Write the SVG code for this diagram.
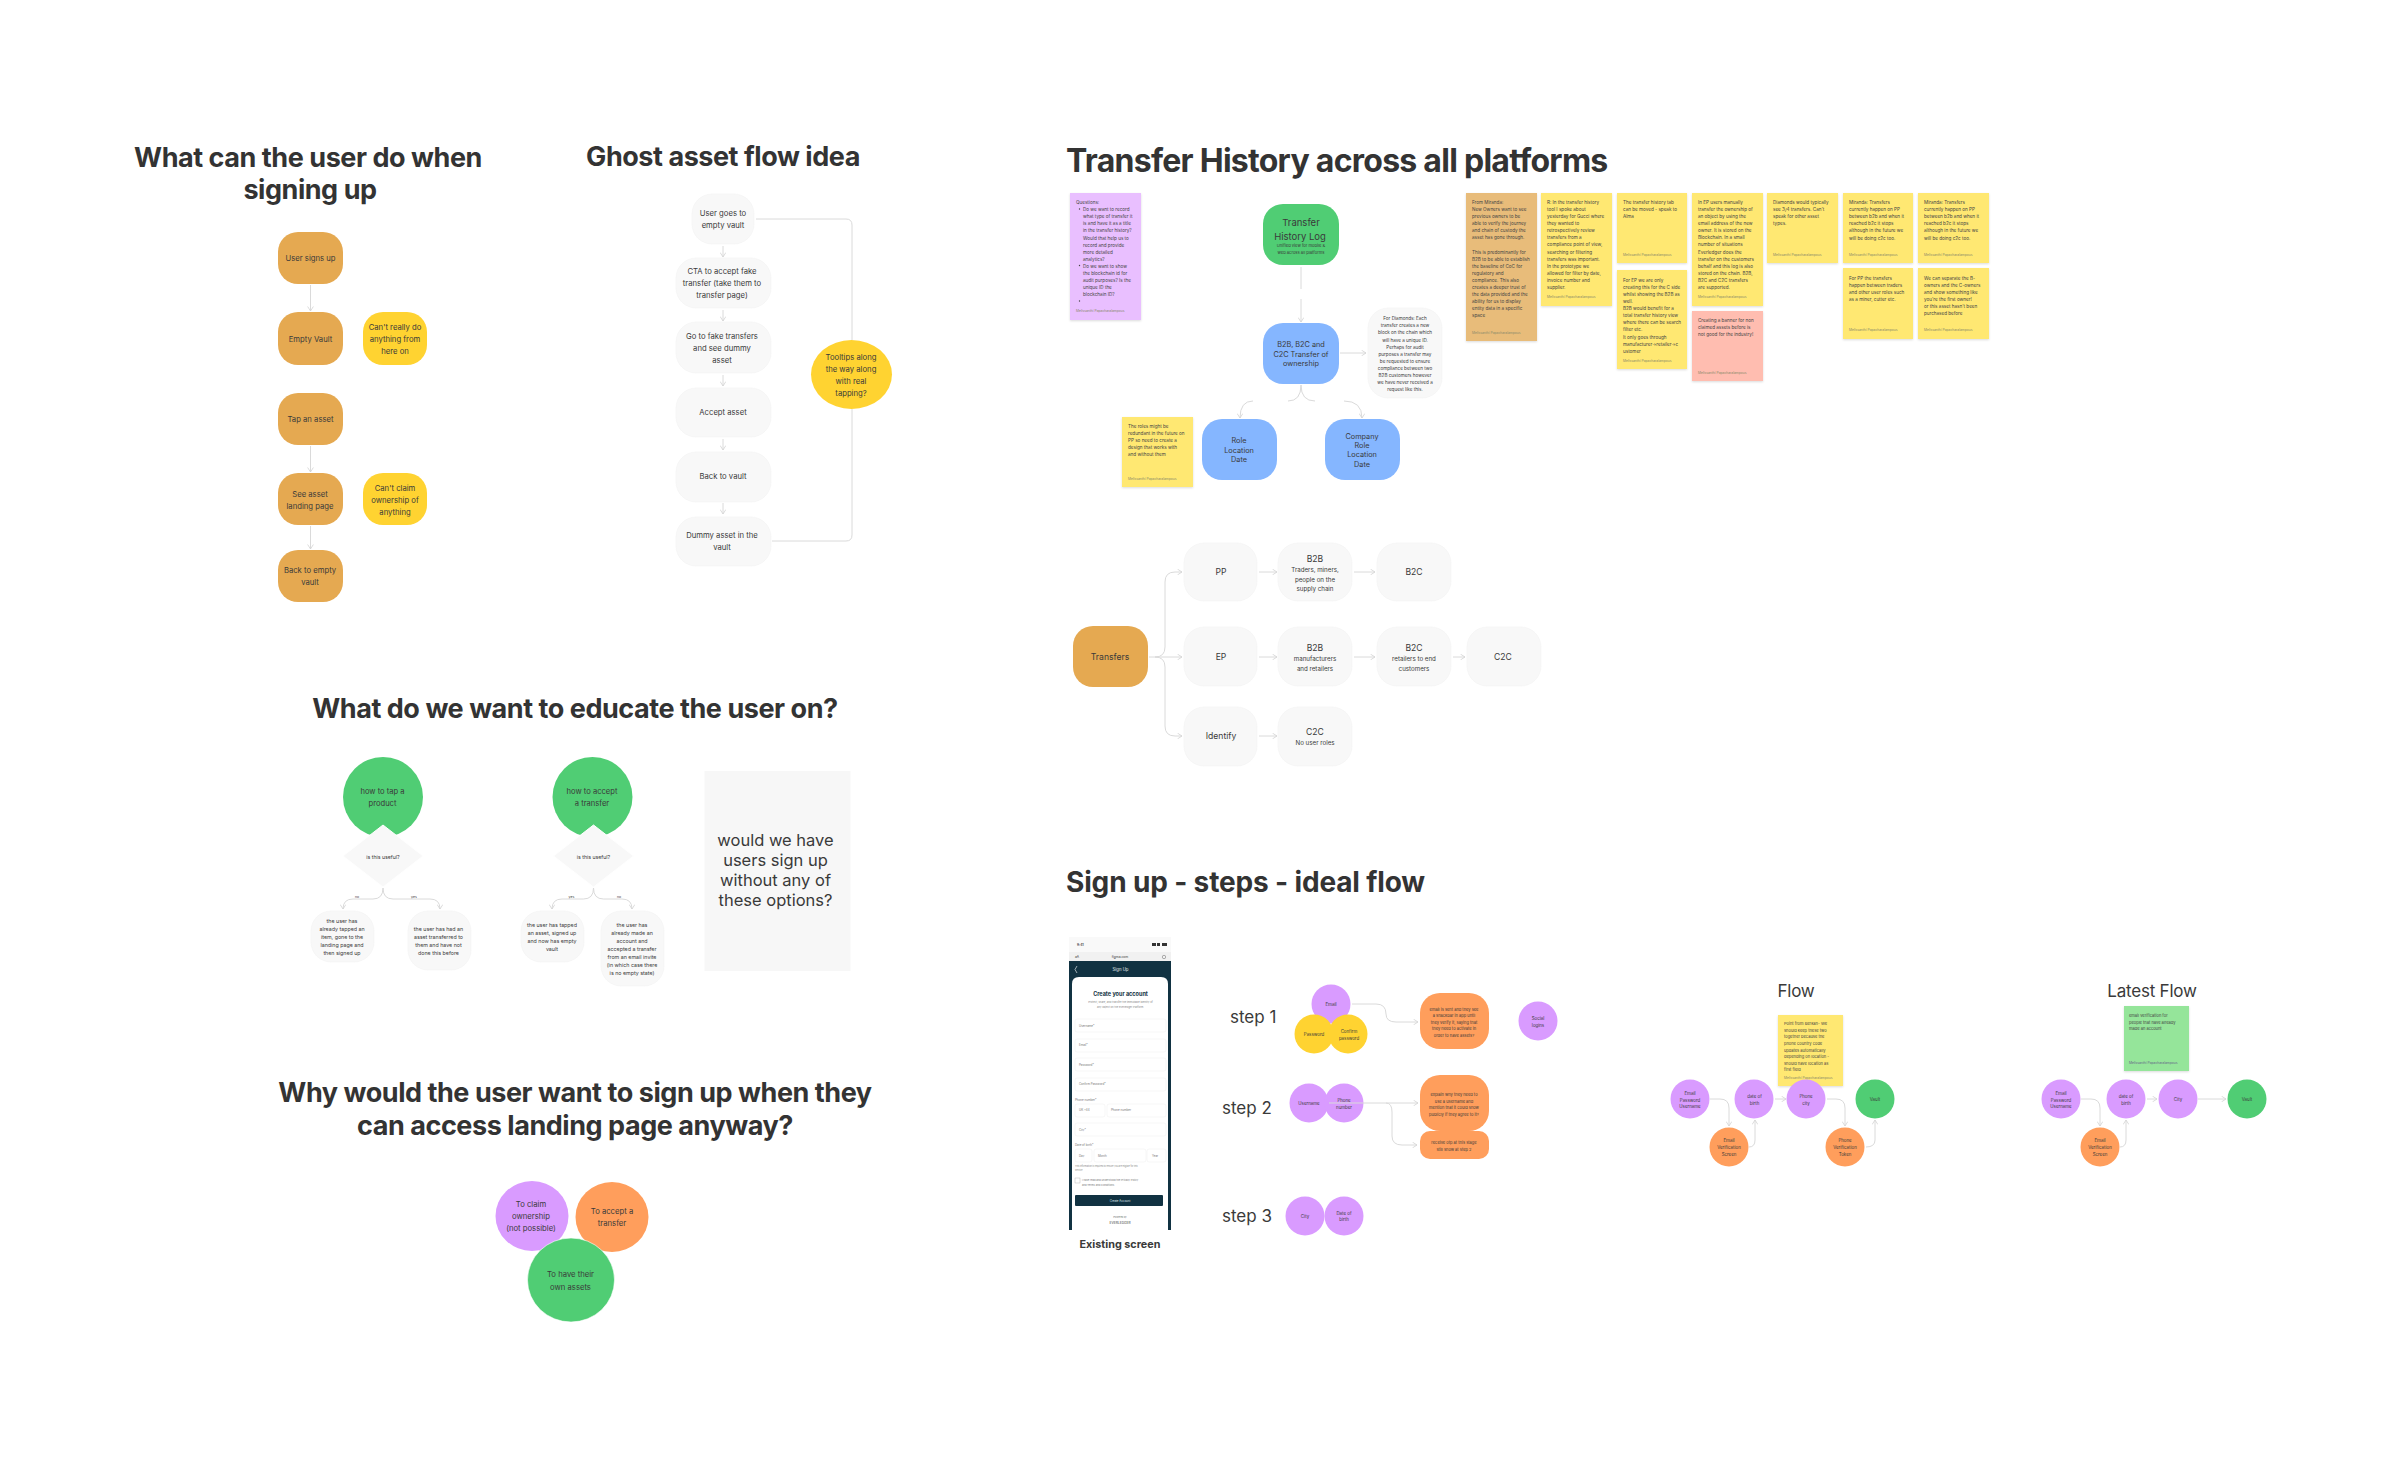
<svg xmlns="http://www.w3.org/2000/svg" width="2400" height="1463" viewBox="0 0 2400 1463">
<style>
text{font-family:Inter,"Liberation Sans",sans-serif;fill:#3a3a3a;dominant-baseline:central}
.c{text-anchor:middle}
.h{font-weight:700;font-size:27px;letter-spacing:-.45px;fill:#333;text-anchor:middle;dominant-baseline:alphabetic}
.h2{font-weight:700;font-size:32px;letter-spacing:-.73px;fill:#333;dominant-baseline:alphabetic}
.h3{font-weight:700;font-size:28px;letter-spacing:-.15px;fill:#333;dominant-baseline:alphabetic}
.n{font-size:7.700px}.nb{font-size:7.600px}.b{font-size:7.300px}.m{font-size:8.600px}.sub{font-size:6.200px}
.xs{font-size:4.400px}.tiny{font-size:4px}.note{font-size:4.600px}
.s{font-size:4.600px;fill:#444}.au{font-size:3.300px;fill:#8a8a6a}
.amber{fill:#e5a951}.yel{fill:#ffd331}.grey{fill:#f8f8f8;stroke:#f4f4f4;stroke-width:.6}
.grn{fill:#50cd74}.blu{fill:#85b6ff}.pur{fill:#d99bff}.org{fill:#ff9e5c}
.st{fill:#ffe872;filter:url(#sh)}
.ln{fill:none;stroke:#dadada;stroke-width:1}
.ar{marker-end:url(#a)}
.fld{fill:#fff;stroke:#eeeeee;stroke-width:.5}
.ph{font-size:2.900px;fill:#777}
.step{font-size:17px}
.ft{font-size:17px;letter-spacing:-.2px}
</style>
<defs>
<filter id="sh" x="-10%" y="-10%" width="120%" height="120%"><feDropShadow dx="0" dy="1" stdDeviation="1" flood-color="#000" flood-opacity=".14"/></filter>
<marker id="a" viewBox="0 0 8 8" refX="7" refY="4" markerWidth="6.500" markerHeight="6.500" markerUnits="userSpaceOnUse" orient="auto"><path d="M1.500,.5 L7,4 L1.500,7.500" fill="none" stroke="#d4d4d4" stroke-width="1"/></marker>
</defs>
<rect width="2400" height="1463" fill="#fff"/>

<g id="titles">
<text class="h" x="308" y="167">What can the user do when</text>
<text class="h" x="310" y="199">signing up</text>
<text class="h" x="723" y="166">Ghost asset flow idea</text>
<text class="h" x="575" y="718">What do we want to educate the user on?</text>
<text class="h" x="575" y="1102">Why would the user want to sign up when they</text>
<text class="h" x="575" y="1135">can access landing page anyway?</text>
<text class="h2" x="1066" y="172">Transfer History across all platforms</text>
<text class="h3" x="1066" y="892">Sign up - steps - ideal flow</text>
</g>

<g id="signup-nodes">
<g id="n-user-signs-up"><rect class="amber" x="278" y="232" width="65" height="52" rx="20"/><text class="n c" x="310.500" y="258">User signs up</text></g>
<g id="n-empty-vault"><rect class="amber" x="278" y="312" width="65" height="53" rx="20"/><text class="n c" x="310.500" y="339">Empty Vault</text></g>
<g id="n-cant-do"><rect class="yel" x="363" y="312" width="64" height="53" rx="20"/><text class="n c" x="395"><tspan x="395" y="327">Can't really do</tspan><tspan x="395" y="339">anything from</tspan><tspan x="395" y="351">here on</tspan></text></g>
<g id="n-tap-asset"><rect class="amber" x="278" y="393" width="65" height="52" rx="20"/><text class="n c" x="310.500" y="419">Tap an asset</text></g>
<g id="n-see-asset"><rect class="amber" x="278" y="473" width="65" height="52" rx="20"/><text class="n c"><tspan x="310" y="494">See asset</tspan><tspan x="310" y="506">landing page</tspan></text></g>
<g id="n-cant-claim"><rect class="yel" x="363" y="473" width="64" height="52" rx="20"/><text class="n c"><tspan x="395" y="488">Can't claim</tspan><tspan x="395" y="500">ownership of</tspan><tspan x="395" y="512">anything</tspan></text></g>
<g id="n-back-empty"><rect class="amber" x="278" y="550" width="65" height="52" rx="20"/><text class="n c"><tspan x="310" y="570">Back to empty</tspan><tspan x="310" y="582">vault</tspan></text></g>
</g>

<g id="ghost-nodes">
<g id="g-user"><rect class="grey" x="692" y="194" width="62" height="50" rx="20"/><text class="n c"><tspan x="723" y="213">User goes to</tspan><tspan x="723" y="225">empty vault</tspan></text></g>
<g id="g-cta"><rect class="grey" x="676" y="258" width="95" height="50" rx="20"/><text class="n c"><tspan x="722" y="271">CTA to accept fake</tspan><tspan x="722" y="283">transfer (take them to</tspan><tspan x="722" y="295">transfer page)</tspan></text></g>
<g id="g-go"><rect class="grey" x="676" y="322" width="95" height="51" rx="20"/><text class="n c"><tspan x="722" y="336">Go to fake transfers</tspan><tspan x="722" y="348">and see dummy</tspan><tspan x="722" y="360">asset</tspan></text></g>
<g id="g-accept"><rect class="grey" x="676" y="388" width="95" height="49" rx="20"/><text class="n c" x="723" y="412">Accept asset</text></g>
<g id="g-back"><rect class="grey" x="676" y="452" width="95" height="50" rx="20"/><text class="n c" x="723" y="476">Back to vault</text></g>
<g id="g-dummy"><rect class="grey" x="676" y="517" width="95" height="49" rx="20"/><text class="n c"><tspan x="722" y="535">Dummy asset in the</tspan><tspan x="722" y="547">vault</tspan></text></g>
<g id="g-tooltips"><ellipse class="yel" cx="851.500" cy="374.500" rx="40.500" ry="34.500"/><text class="n c"><tspan x="851" y="357">Tooltips along</tspan><tspan x="851" y="369">the way along</tspan><tspan x="851" y="381">with real</tspan><tspan x="851" y="393">tapping?</tspan></text></g>
</g>

<g id="educate-nodes">
<g id="e-tap"><circle class="grn" cx="383" cy="797" r="40"/><text class="nb c"><tspan x="382.500" y="791">how to tap a</tspan><tspan x="382.500" y="803">product</tspan></text></g>
<g id="e-accept"><circle class="grn" cx="592.500" cy="797" r="40"/><text class="nb c"><tspan x="592" y="791">how to accept</tspan><tspan x="592" y="803">a transfer</tspan></text></g>
<g id="e-d1"><path d="M383,825 L423,856 L383,887 L343,856Z" fill="#f8f8f8" stroke="#fff"/><text class="c" font-size="5.200" x="383" y="857">is this useful?</text></g>
<g id="e-d2"><path d="M593.500,825 L633.500,856 L593.500,887 L553.500,856Z" fill="#f8f8f8" stroke="#fff"/><text class="c" font-size="5.200" x="593.500" y="857">is this useful?</text></g>
<g id="e-l1"><rect class="grey" x="311" y="911" width="63" height="51" rx="20"/><text class="c" font-size="5.300"><tspan x="342" y="921">the user has</tspan><tspan x="342" y="929">already tapped an</tspan><tspan x="342" y="937">item, gone to the</tspan><tspan x="342" y="945">landing page and</tspan><tspan x="342" y="953">then signed up</tspan></text></g>
<g id="e-r1"><rect class="grey" x="408" y="911" width="63" height="59" rx="20"/><text class="c" font-size="5.300"><tspan x="438.500" y="929">the user has had an</tspan><tspan x="438.500" y="937">asset transferred to</tspan><tspan x="438.500" y="945">them and have not</tspan><tspan x="438.500" y="953">done this before</tspan></text></g>
<g id="e-l2"><rect class="grey" x="521" y="911" width="63" height="51" rx="20"/><text class="c" font-size="5.300"><tspan x="552" y="925">the user has tapped</tspan><tspan x="552" y="933">an asset, signed up</tspan><tspan x="552" y="941">and now has empty</tspan><tspan x="552" y="949">vault</tspan></text></g>
<g id="e-r2"><rect class="grey" x="601" y="911" width="63" height="75" rx="20"/><text class="c" font-size="5.300"><tspan x="632" y="925">the user has</tspan><tspan x="632" y="933">already made an</tspan><tspan x="632" y="941">account and</tspan><tspan x="632" y="949">accepted a transfer</tspan><tspan x="632" y="957">from an email invite</tspan><tspan x="632" y="965">(in which case there</tspan><tspan x="632" y="973">is no empty state)</tspan></text></g>
<g id="e-box"><rect x="704.500" y="771" width="146" height="200" fill="#f7f7f7"/><text class="c" font-size="16.500"><tspan x="775.500" y="840">would we have</tspan><tspan x="775.500" y="860">users sign up</tspan><tspan x="775.500" y="880">without any of</tspan><tspan x="775.500" y="900">these options?</tspan></text></g>
<text class="c" font-size="3.500" x="357" y="897">no</text><text class="c" font-size="3.500" x="414" y="897">yes</text>
<text class="c" font-size="3.500" x="571.500" y="897">yes</text><text class="c" font-size="3.500" x="619" y="897">no</text>
</g>

<g id="why-nodes">
<g id="w-claim"><ellipse class="pur" cx="532" cy="1216" rx="36.500" ry="35"/><text class="n c"><tspan x="531" y="1204">To claim</tspan><tspan x="531" y="1216">ownership</tspan><tspan x="531" y="1228">(not possible)</tspan></text></g>
<g id="w-accept"><ellipse class="org" cx="612" cy="1217" rx="36.500" ry="35"/><text class="n c"><tspan x="612" y="1211">To accept a</tspan><tspan x="612" y="1223">transfer</tspan></text></g>
<g id="w-own"><ellipse class="grn" cx="571" cy="1280" rx="43.500" ry="42" stroke="#fff" stroke-width=".6"/><text class="n c"><tspan x="570.500" y="1274">To have their</tspan><tspan x="570.500" y="1287">own assets</tspan></text></g>
</g>

<g id="history-nodes">
<g id="s-questions"><rect x="1070" y="193" width="71" height="127" fill="#e9bfff" filter="url(#sh)"/>
<text class="s"><tspan x="1076" y="202">Questions:</tspan>
<tspan x="1083" y="209">Do we want to record</tspan><tspan x="1083" y="216">what type of transfer it</tspan><tspan x="1083" y="223">is and have it as a title</tspan><tspan x="1083" y="230">in the transfer history?</tspan><tspan x="1083" y="237.500">Would that help us to</tspan><tspan x="1083" y="244.500">record and provide</tspan><tspan x="1083" y="251.500">more detailed</tspan><tspan x="1083" y="258.500">analytics?</tspan><tspan x="1083" y="265.500">Do we want to show</tspan><tspan x="1083" y="272.500">the blockchain id for</tspan><tspan x="1083" y="280">audit purposes? Is the</tspan><tspan x="1083" y="287">unique ID the</tspan><tspan x="1083" y="294">blockchain ID?</tspan></text>
<circle cx="1079.500" cy="209" r=".7" fill="#444"/><circle cx="1079.500" cy="265.500" r=".7" fill="#444"/><circle cx="1079.500" cy="301" r=".7" fill="#444"/>
<text class="au" x="1076" y="311">Melissanthi Papacharalampous</text></g>
<g id="t-log"><rect class="grn" x="1263" y="204" width="76" height="61" rx="20"/><text class="c" font-size="9.500"><tspan x="1301" y="222">Transfer</tspan><tspan x="1300" y="236">History Log</tspan></text><text class="c" font-size="4.100"><tspan x="1301" y="245">Unified view for mobile &amp;</tspan><tspan x="1301" y="252">web across all platforms</tspan></text></g>
<g id="t-b2b"><rect class="blu" x="1263" y="323" width="76" height="61" rx="20"/><text class="b c"><tspan x="1301" y="344">B2B, B2C and</tspan><tspan x="1301" y="353.500">C2C Transfer of</tspan><tspan x="1301" y="363">ownership</tspan></text></g>
<g id="t-diamonds"><rect class="grey" x="1368" y="308" width="74" height="90" rx="20"/><text class="note c"><tspan x="1405" y="318">For Diamonds: Each</tspan><tspan x="1405" y="325">transfer creates a new</tspan><tspan x="1405" y="332">block on the chain which</tspan><tspan x="1405" y="339.500">will have a unique ID.</tspan><tspan x="1405" y="346.500">Perhaps for audit</tspan><tspan x="1405" y="353.500">purposes a transfer may</tspan><tspan x="1405" y="360.500">be requested to ensure</tspan><tspan x="1405" y="368">compliance between two</tspan><tspan x="1405" y="375">B2B customers however</tspan><tspan x="1405" y="382">we have never received a</tspan><tspan x="1405" y="389">request like this.</tspan></text></g>
<g id="t-role"><rect class="blu" x="1202" y="419" width="75" height="61" rx="20"/><text class="b c"><tspan x="1239" y="440">Role</tspan><tspan x="1239" y="450">Location</tspan><tspan x="1239" y="459">Date</tspan></text></g>
<g id="t-company"><rect class="blu" x="1325" y="419" width="75" height="61" rx="20"/><text class="b c"><tspan x="1362" y="436">Company</tspan><tspan x="1362" y="445">Role</tspan><tspan x="1362" y="454">Location</tspan><tspan x="1362" y="464">Date</tspan></text></g>
<g id="s-roles"><rect class="st" x="1122" y="417" width="71" height="70"/><text class="s"><tspan x="1128" y="426">The roles might be</tspan><tspan x="1128" y="433">redundant in the future on</tspan><tspan x="1128" y="440">PP so need to create a</tspan><tspan x="1128" y="447">design that works with</tspan><tspan x="1128" y="454">and without them</tspan></text><text class="au" x="1128" y="479">Melissanthi Papacharalampous</text></g>
<g id="s-miranda"><rect x="1466" y="193" width="71" height="148" fill="#e8bc7a" filter="url(#sh)"/><text class="s"><tspan x="1472" y="202">From Miranda:</tspan><tspan x="1472" y="209">New Owners want to see</tspan><tspan x="1472" y="216">previous owners to be</tspan><tspan x="1472" y="223.200">able to verify the journey</tspan><tspan x="1472" y="230.300">and chain of custody the</tspan><tspan x="1472" y="237.400">asset has gone through.</tspan><tspan x="1472" y="251.500">This is predominantly for</tspan><tspan x="1472" y="258.600">B2B to be able to establish</tspan><tspan x="1472" y="265.700">the baseline of CoC for</tspan><tspan x="1472" y="272.800">regulatory and</tspan><tspan x="1472" y="279.900">compliance. This also</tspan><tspan x="1472" y="287">creates a deeper trust of</tspan><tspan x="1472" y="294">the data provided and the</tspan><tspan x="1472" y="301">ability for us to display</tspan><tspan x="1472" y="308.200">entity data in a specific</tspan><tspan x="1472" y="315.300">space</tspan></text><text class="au" x="1472" y="333">Melissanthi Papacharalampous</text></g>
<g id="s-r"><rect class="st" x="1541" y="193" width="71" height="113"/><text class="s"><tspan x="1547" y="202">R:  In the transfer history</tspan><tspan x="1547" y="209">tool I spoke about</tspan><tspan x="1547" y="216">yesterday for Gucci where</tspan><tspan x="1547" y="223.200">they wanted to</tspan><tspan x="1547" y="230.300">retrospectively review</tspan><tspan x="1547" y="237.400">transfers from a</tspan><tspan x="1547" y="244.400">compliance point of view,</tspan><tspan x="1547" y="251.500">searching or filtering</tspan><tspan x="1547" y="258.600">transfers was important.</tspan><tspan x="1547" y="265.700">In the prototype we</tspan><tspan x="1547" y="272.800">allowed for filter by date,</tspan><tspan x="1547" y="279.900">invoice number and</tspan><tspan x="1547" y="287">supplier.</tspan></text><text class="au" x="1547" y="297">Melissanthi Papacharalampous</text></g>
<g id="s-tab"><rect class="st" x="1617" y="193" width="70" height="70"/><text class="s"><tspan x="1623" y="202">The transfer history tab</tspan><tspan x="1623" y="209">can be moved - speak to</tspan><tspan x="1623" y="216">Alma</tspan></text><text class="au" x="1623" y="255">Melissanthi Papacharalampous</text></g>
<g id="s-ep1"><rect class="st" x="1617" y="270" width="70" height="99"/><text class="s"><tspan x="1623" y="280">For EP we are only</tspan><tspan x="1623" y="287">creating this for the C side</tspan><tspan x="1623" y="294">whilst showing the B2B as</tspan><tspan x="1623" y="301">well.</tspan><tspan x="1623" y="308">B2B would benefit for a</tspan><tspan x="1623" y="315">total transfer history view</tspan><tspan x="1623" y="322.300">where there can be search</tspan><tspan x="1623" y="329.400">filter etc.</tspan><tspan x="1623" y="336.500">It only goes through</tspan><tspan x="1623" y="343.600">manufacturer-&gt;retailer-&gt;c</tspan><tspan x="1623" y="350.700">ustomer</tspan></text><text class="au" x="1623" y="361">Melissanthi Papacharalampous</text></g>
<g id="s-ep2"><rect class="st" x="1692" y="193" width="71" height="113"/><text class="s"><tspan x="1698" y="202">In EP users manually</tspan><tspan x="1698" y="209">transfer the ownership of</tspan><tspan x="1698" y="216">an object by using the</tspan><tspan x="1698" y="223.200">email address of the new</tspan><tspan x="1698" y="230.300">owner. It is stored on the</tspan><tspan x="1698" y="237.400">Blockchain. In a small</tspan><tspan x="1698" y="244.400">number of situations</tspan><tspan x="1698" y="251.500">Everledger does the</tspan><tspan x="1698" y="258.600">transfer on the customers</tspan><tspan x="1698" y="265.700">behalf and this log is also</tspan><tspan x="1698" y="272.800">stored on the chain. B2B,</tspan><tspan x="1698" y="279.900">B2C and C2C transfers</tspan><tspan x="1698" y="287">are supported.</tspan></text><text class="au" x="1698" y="297">Melissanthi Papacharalampous</text></g>
<g id="s-banner"><rect x="1692" y="311" width="71" height="70" fill="#ffbdb0" filter="url(#sh)"/><text class="s"><tspan x="1698" y="320">Creating a banner for non</tspan><tspan x="1698" y="327">claimed assets before is</tspan><tspan x="1698" y="334">not good for the industry!</tspan></text><text class="au" x="1698" y="373">Melissanthi Papacharalampous</text></g>
<g id="s-diamonds"><rect class="st" x="1767" y="193" width="71" height="70"/><text class="s"><tspan x="1773" y="202">Diamonds would typically</tspan><tspan x="1773" y="209">see 3/4 transfers. Can't</tspan><tspan x="1773" y="216">speak for other asset</tspan><tspan x="1773" y="223">types.</tspan></text><text class="au" x="1773" y="255">Melissanthi Papacharalampous</text></g>
<g id="s-m1"><rect class="st" x="1843" y="193" width="70" height="70"/><text class="s"><tspan x="1849" y="202">Miranda: Transfers</tspan><tspan x="1849" y="209">currently happen on PP</tspan><tspan x="1849" y="216">between b2b and when it</tspan><tspan x="1849" y="223">reached b2c it stops</tspan><tspan x="1849" y="230">although in the future we</tspan><tspan x="1849" y="237.500">will be doing c2c too.</tspan></text><text class="au" x="1849" y="255">Melissanthi Papacharalampous</text></g>
<g id="s-m2"><rect class="st" x="1918" y="193" width="71" height="70"/><text class="s"><tspan x="1924" y="202">Miranda: Transfers</tspan><tspan x="1924" y="209">currently happen on PP</tspan><tspan x="1924" y="216">between b2b and when it</tspan><tspan x="1924" y="223">reached b2c it stops</tspan><tspan x="1924" y="230">although in the future we</tspan><tspan x="1924" y="237.500">will be doing c2c too.</tspan></text><text class="au" x="1924" y="255">Melissanthi Papacharalampous</text></g>
<g id="s-pp"><rect class="st" x="1843" y="268" width="70" height="71"/><text class="s"><tspan x="1849" y="278">For PP the transfers</tspan><tspan x="1849" y="285">happen between traders</tspan><tspan x="1849" y="292">and other user roles such</tspan><tspan x="1849" y="299">as a miner, cutter etc.</tspan></text><text class="au" x="1849" y="330">Melissanthi Papacharalampous</text></g>
<g id="s-sep"><rect class="st" x="1918" y="268" width="71" height="71"/><text class="s"><tspan x="1924" y="278">We can separate the B-</tspan><tspan x="1924" y="285">owners and the C-owners</tspan><tspan x="1924" y="292">and show something like</tspan><tspan x="1924" y="299">you're the first owner!</tspan><tspan x="1924" y="306">or this asset hasn't been</tspan><tspan x="1924" y="313">purchased before</tspan></text><text class="au" x="1924" y="330">Melissanthi Papacharalampous</text></g>
</g>

<g id="transfer-nodes">
<g id="x-transfers"><rect class="amber" x="1073" y="626" width="75" height="61" rx="20"/><text class="m c" x="1110" y="656.500">Transfers</text></g>
<g id="x-pp"><rect class="grey" x="1184" y="543" width="73" height="58" rx="20"/><text class="m c" x="1221" y="572">PP</text></g>
<g id="x-b2b1"><rect class="grey" x="1278" y="543" width="74" height="58" rx="20"/><text class="m c" x="1315" y="559">B2B</text><text class="sub c"><tspan x="1315" y="569">Traders, miners,</tspan><tspan x="1315" y="578.500">people on the</tspan><tspan x="1315" y="588">supply chain</tspan></text></g>
<g id="x-b2c1"><rect class="grey" x="1377" y="543" width="74" height="58" rx="20"/><text class="m c" x="1414" y="572">B2C</text></g>
<g id="x-ep"><rect class="grey" x="1184" y="627" width="73" height="59" rx="20"/><text class="m c" x="1221" y="657">EP</text></g>
<g id="x-b2b2"><rect class="grey" x="1278" y="627" width="74" height="59" rx="20"/><text class="m c" x="1315" y="648">B2B</text><text class="sub c"><tspan x="1315" y="658">manufacturers</tspan><tspan x="1315" y="668">and retailers</tspan></text></g>
<g id="x-b2c2"><rect class="grey" x="1377" y="627" width="74" height="59" rx="20"/><text class="m c" x="1414" y="648">B2C</text><text class="sub c"><tspan x="1414" y="658">retailers to end</tspan><tspan x="1414" y="668">customers</tspan></text></g>
<g id="x-c2c"><rect class="grey" x="1467" y="627" width="74" height="59" rx="20"/><text class="m c" x="1503" y="657">C2C</text></g>
<g id="x-identify"><rect class="grey" x="1184" y="707" width="73" height="59" rx="20"/><text class="m c" x="1221" y="736">Identify</text></g>
<g id="x-c2c2"><rect class="grey" x="1278" y="707" width="74" height="59" rx="20"/><text class="m c" x="1315" y="732">C2C</text><text class="sub c" x="1315" y="742">No user roles</text></g>
</g>

<g id="phone-screen">
<rect x="1069" y="937" width="102" height="293" fill="#fff"/>
<rect x="1069" y="937" width="102" height="15" fill="#f9f9f9"/>
<rect x="1069" y="952" width="102" height="9" fill="#f1f1f1"/>
<rect x="1069" y="961" width="102" height="269" fill="#113242"/>
<path d="M1072,1230 V984 Q1072,977 1079,977 H1161 Q1168,977 1168,984 V1230Z" fill="#fff"/>
<text font-size="3.300" font-weight="600" x="1077" y="945">9:41</text>
<rect x="1152" y="943" width="4" height="3" fill="#333"/><rect x="1157" y="943" width="3" height="3" fill="#333"/><rect x="1162" y="943" width="5" height="3" fill="#333"/>
<text font-size="3.300" x="1075" y="956.500">aA</text>
<text class="c" font-size="3.300" x="1120" y="956.500">figma.com</text>
<circle cx="1164" cy="957" r="1.700" fill="none" stroke="#666" stroke-width=".5"/>
<path d="M1077,966 L1075,969.500 L1077,973" fill="none" stroke="#fff" stroke-width=".6"/>
<text class="c" font-size="4.300" x="1120.500" y="969.500" style="fill:#e8eef0">Sign Up</text>
<text class="c" font-size="5.500" font-weight="700" x="1120.500" y="994" style="fill:#113242">Create your account</text>
<text class="c" font-size="2.600" style="fill:#888"><tspan x="1120.500" y="1002">Protect, share, and transfer the immutable identity of</tspan><tspan x="1120.500" y="1006.500">any object on the Everledger Platform.</tspan></text>
<rect class="fld" x="1075" y="1019" width="91" height="13" rx="2"/><text class="ph" x="1079" y="1025.500">Username*</text>
<rect class="fld" x="1075" y="1039" width="91" height="13" rx="2"/><text class="ph" x="1079" y="1045">Email*</text>
<rect class="fld" x="1075" y="1058" width="91" height="13" rx="2"/><text class="ph" x="1079" y="1064.500">Password*</text>
<rect class="fld" x="1075" y="1078" width="91" height="13" rx="2"/><text class="ph" x="1079" y="1084">Confirm Password*</text>
<text class="ph" x="1075" y="1100">Phone number*</text>
<rect class="fld" x="1075" y="1104" width="30" height="13" rx="2"/><text class="ph" x="1079" y="1110">UK +44</text>
<rect class="fld" x="1107" y="1104" width="59" height="13" rx="2"/><text class="ph" x="1111" y="1110">Phone number</text>
<rect class="fld" x="1075" y="1123" width="91" height="13" rx="2"/><text class="ph" x="1079" y="1129.500">City*</text>
<text class="ph" x="1075" y="1145">Date of birth*</text>
<rect class="fld" x="1075" y="1149" width="17" height="13" rx="2"/><text class="ph" x="1079" y="1155.500">Day</text>
<rect class="fld" x="1094" y="1149" width="52" height="13" rx="2"/><text class="ph" x="1098" y="1155.500">Month</text>
<rect class="fld" x="1147" y="1149" width="19" height="13" rx="2"/><text class="ph" x="1152" y="1155.500">Year</text>
<text font-size="2.200" style="fill:#888"><tspan x="1075" y="1165.500">This information is required to ensure you are eligible for this</tspan><tspan x="1075" y="1169.500">service.</tspan></text>
<rect x="1075" y="1178" width="5" height="5" fill="#fff" stroke="#aaa" stroke-width=".4"/>
<text font-size="2.600" style="fill:#777"><tspan x="1082" y="1180">I have read and understood the Privacy Policy</tspan><tspan x="1082" y="1185">and Terms and Conditions.</tspan></text>
<rect x="1075" y="1195" width="88" height="11" rx="1" fill="#113242"/>
<text class="c" font-size="2.800" x="1120" y="1201" style="fill:#dfe6e9">Create Account</text>
<text class="c" font-size="2.400" x="1120" y="1217" style="fill:#777">Powered by</text>
<text class="c" font-size="3.300" x="1120" y="1223" style="fill:#444">EVERLEDGER</text>
<text class="c" font-size="10.800" font-weight="700" x="1120" y="1244">Existing screen</text>
</g>

<g id="step-nodes">
<text class="step" x="1230" y="1017">step 1</text>
<text class="step" x="1222" y="1108">step 2</text>
<text class="step" x="1222" y="1216">step 3</text>
<g id="st-email"><circle class="pur" cx="1331" cy="1004" r="19.500"/><text class="xs c" x="1331" y="1004">Email</text></g>
<g id="st-pass"><circle class="yel" cx="1314" cy="1034" r="19.500"/><text class="xs c" x="1314" y="1034.500">Password</text></g>
<g id="st-confirm"><circle class="yel" cx="1348" cy="1034" r="19.500"/><text class="xs c"><tspan x="1349" y="1031">Confirm</tspan><tspan x="1349" y="1037.500">password</tspan></text></g>
<g id="st-note1"><rect class="org" x="1420" y="993" width="69" height="56" rx="20"/><text class="tiny c"><tspan x="1454" y="1008.500">email is sent and they see</tspan><tspan x="1454" y="1015">a snackbar in app until</tspan><tspan x="1454" y="1021.500">they verify it, saying that</tspan><tspan x="1454" y="1028">they need to activate in</tspan><tspan x="1454" y="1034.500">order to have assets?</tspan></text></g>
<g id="st-social"><circle class="pur" cx="1538" cy="1021" r="19.500"/><text class="xs c"><tspan x="1538" y="1018">Social</tspan><tspan x="1538" y="1024.500">logins</tspan></text></g>
<g id="st-username"><circle class="pur" cx="1309" cy="1103" r="19.500"/><text class="xs c" x="1309" y="1103.500">Username</text></g>
<g id="st-phone"><circle class="pur" cx="1344" cy="1103" r="19.500"/><text class="xs c"><tspan x="1344" y="1100">Phone</tspan><tspan x="1344" y="1107">number</tspan></text></g>
<g id="st-note2"><rect class="org" x="1420" y="1075" width="69" height="56" rx="20"/><text class="tiny c"><tspan x="1454" y="1094">explain why they need to</tspan><tspan x="1454" y="1100.500">use a username and</tspan><tspan x="1454" y="1107">mention that it could show</tspan><tspan x="1454" y="1113.500">publicly if they agree to it?</tspan></text></g>
<g id="st-note3"><rect class="org" x="1420" y="1131" width="69" height="28" rx="10"/><text class="tiny c"><tspan x="1454" y="1142">receive otp at this stage</tspan><tspan x="1454" y="1148.500">still show at step 2</tspan></text></g>
<g id="st-city"><circle class="pur" cx="1305" cy="1216" r="19.500"/><text class="xs c" x="1305" y="1216">City</text></g>
<g id="st-dob"><circle class="pur" cx="1344" cy="1216" r="19.500"/><text class="xs c"><tspan x="1344" y="1212.500">Date of</tspan><tspan x="1344" y="1219">birth</tspan></text></g>
</g>

<g id="flow-nodes">
<text class="c ft" x="1796" y="991">Flow</text>
<g id="f-sticky"><rect class="st" x="1778" y="1015" width="65" height="71"/><text class="tiny" style="fill:#444"><tspan x="1784" y="1023">Point from Berkan- We</tspan><tspan x="1784" y="1029.500">should keep these two</tspan><tspan x="1784" y="1036">together because the</tspan><tspan x="1784" y="1042.500">phone country code</tspan><tspan x="1784" y="1049.500">updates automatically</tspan><tspan x="1784" y="1056">depending on location -</tspan><tspan x="1784" y="1062.500">should have location as</tspan><tspan x="1784" y="1069">first field</tspan></text><text class="au" font-size="3" x="1784" y="1078">Melissanthi Papacharalampous</text></g>
<g id="f-email"><circle class="pur" cx="1690" cy="1099" r="19.500"/><text class="xs c"><tspan x="1690" y="1093">Email</tspan><tspan x="1690" y="1099.500">Password</tspan><tspan x="1690" y="1106">Username</tspan></text></g>
<g id="f-verify"><circle class="org" cx="1729" cy="1147" r="19.500"/><text class="xs c"><tspan x="1729" y="1140">Email</tspan><tspan x="1729" y="1147">Verification</tspan><tspan x="1729" y="1153.500">Screen</tspan></text></g>
<g id="f-dob"><circle class="pur" cx="1754" cy="1099" r="19.500"/><text class="xs c"><tspan x="1754.500" y="1096">date of</tspan><tspan x="1754.500" y="1102.500">birth</tspan></text></g>
<g id="f-phone"><circle class="pur" cx="1806" cy="1099" r="19.500"/><text class="xs c"><tspan x="1806" y="1096">Phone</tspan><tspan x="1806" y="1102.500">city</tspan></text></g>
<g id="f-token"><circle class="org" cx="1845" cy="1147" r="19.500"/><text class="xs c"><tspan x="1845" y="1140">Phone</tspan><tspan x="1845" y="1147">Verification</tspan><tspan x="1845" y="1153.500">Token</tspan></text></g>
<g id="f-vault"><circle class="grn" cx="1875" cy="1099" r="19.500"/><text class="xs c" x="1875" y="1099.500">Vault</text></g>
</g>

<g id="latest-nodes">
<text class="c ft" x="2152" y="991">Latest Flow</text>
<g id="l-sticky"><rect x="2124" y="1006" width="65" height="65" fill="#95e59a" filter="url(#sh)"/><text class="tiny" style="fill:#444"><tspan x="2129" y="1015">email verification for</tspan><tspan x="2129" y="1021.500">people that have already</tspan><tspan x="2129" y="1028">made an account</tspan></text><text class="au" font-size="3" style="fill:#668" x="2129" y="1063">Melissanthi Papacharalampous</text></g>
<g id="l-email"><circle class="pur" cx="2061" cy="1099" r="19.500"/><text class="xs c"><tspan x="2061" y="1093">Email</tspan><tspan x="2061" y="1099.500">Password</tspan><tspan x="2061" y="1106">Username</tspan></text></g>
<g id="l-verify"><circle class="org" cx="2100" cy="1147" r="19.500"/><text class="xs c"><tspan x="2100" y="1140">Email</tspan><tspan x="2100" y="1147">Verification</tspan><tspan x="2100" y="1153.500">Screen</tspan></text></g>
<g id="l-dob"><circle class="pur" cx="2126" cy="1099" r="19.500"/><text class="xs c"><tspan x="2126" y="1096">date of</tspan><tspan x="2126" y="1102.500">birth</tspan></text></g>
<g id="l-city"><circle class="pur" cx="2178" cy="1099" r="19.500"/><text class="xs c" x="2178" y="1099.500">City</text></g>
<g id="l-vault"><circle class="grn" cx="2247" cy="1099" r="19.500"/><text class="xs c" x="2247" y="1099.500">Vault</text></g>
</g>

<g id="connectors">
<path class="ln ar" d="M310.500,285 V311"/><path class="ln ar" d="M310.500,446 V472"/><path class="ln ar" d="M310.500,526 V549"/>
<path class="ln ar" d="M723,246 V257"/><path class="ln ar" d="M723,310 V321"/><path class="ln ar" d="M723,375 V386"/><path class="ln ar" d="M723,439 V450"/><path class="ln ar" d="M723,503 V514"/>
<path class="ln" d="M756,219 H846 Q852,219 852,225 V340"/><path class="ln" d="M852,409 V535 Q852,541 846,541 H772"/>
<path class="ln ar" d="M383,888 Q383,899 373,899 H353 Q343,899 343,909"/><path class="ln ar" d="M383,888 Q383,899 393,899 H430 Q440,899 440,909"/>
<path class="ln ar" d="M593.500,888 Q593.500,899 583.500,899 H562 Q552,899 552,909"/><path class="ln ar" d="M593.500,888 Q593.500,899 603.500,899 H622 Q632,899 632,909"/>
<path class="ln" d="M1301,267 V289"/><path class="ln ar" d="M1301,299 V322"/><path class="ln ar" d="M1340,353 H1366"/>
<path class="ln" d="M1301,385 Q1301,401 1288,401"/><path class="ln ar" d="M1253,401 Q1240,401 1240,418"/>
<path class="ln" d="M1301,385 Q1301,401 1315,401"/><path class="ln ar" d="M1344,401 Q1362,401 1362,418"/>
<path class="ln ar" d="M1149,657 H1182"/><path class="ln ar" d="M1155,657 Q1165,657 1165,647 V582 Q1165,572 1175,572 H1182"/><path class="ln ar" d="M1155,657 Q1165,657 1165,667 V726 Q1165,736 1175,736 H1182"/>
<path class="ln ar" d="M1259,572 H1277"/><path class="ln ar" d="M1354,572 H1375"/><path class="ln ar" d="M1259,657 H1277"/><path class="ln ar" d="M1354,657 H1375"/><path class="ln ar" d="M1453,657 H1465"/><path class="ln ar" d="M1259,736 H1277"/>
<path class="ln ar" d="M1352,1004 H1376 Q1386,1004 1386,1014 Q1386,1022 1396,1022 H1418"/>
<path class="ln ar" d="M1329,1103 H1418"/><path class="ln ar" d="M1386,1103 Q1392,1103 1392,1112 V1136 Q1392,1145 1402,1145 H1417"/>
<path class="ln ar" d="M1710,1099 H1720 Q1729,1099 1729,1108 V1126"/><path class="ln ar" d="M1749,1147 Q1755,1147 1755,1140 V1120"/><path class="ln ar" d="M1775,1099 H1786"/><path class="ln ar" d="M1827,1099 H1836 Q1845,1099 1845,1108 V1126"/><path class="ln ar" d="M1866,1147 Q1875,1147 1875,1140 V1120"/>
<path class="ln ar" d="M2081,1099 H2091 Q2100,1099 2100,1108 V1126"/><path class="ln ar" d="M2120,1147 Q2126,1147 2126,1140 V1120"/><path class="ln ar" d="M2147,1099 H2157"/><path class="ln ar" d="M2198,1099 H2226"/>
</g>
</svg>
